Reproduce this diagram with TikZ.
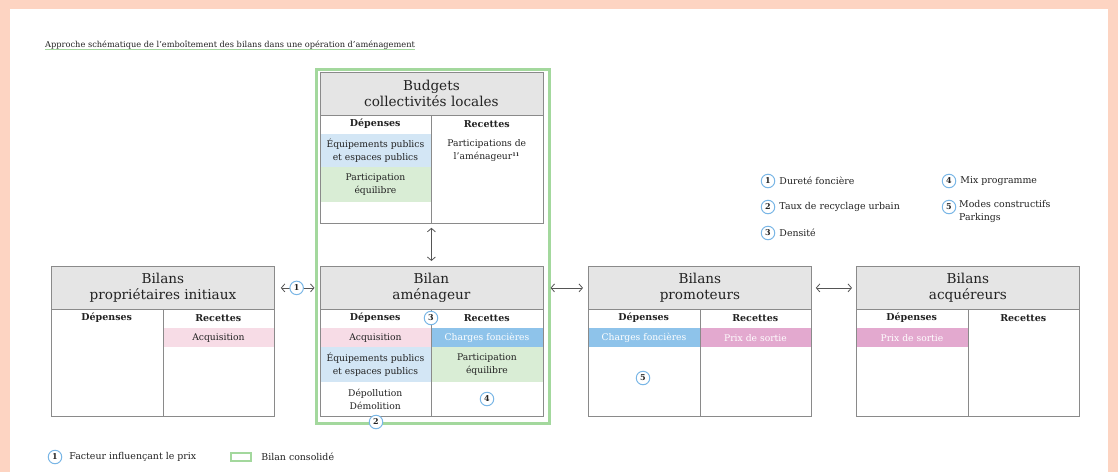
\documentclass[tikz,border=0pt]{standalone}
\usepackage{fontspec}
\setmainfont{DejaVu Serif}
\usetikzlibrary{positioning,arrows.meta}
\definecolor{peach}{HTML}{FDD4C2}
\definecolor{headgrey}{HTML}{E5E5E5}
\definecolor{linegrey}{HTML}{8A8A8A}
\definecolor{textdark}{HTML}{222222}
\definecolor{paleblue}{HTML}{D3E6F5}
\definecolor{deepblue}{HTML}{8EC3EA}
\definecolor{palepink}{HTML}{F7DCE6}
\definecolor{mauve}{HTML}{E3A9CF}
\definecolor{palegreen}{HTML}{D9EDD5}
\definecolor{greenframe}{HTML}{A3D89D}
\definecolor{numblue}{HTML}{79B6E6}
\definecolor{arrowgrey}{HTML}{555555}
\tikzset{
  bilanbox/.style={draw=linegrey, line width=0.8pt, minimum width=223, minimum height=150, anchor=north west, inner sep=0},
  bilanhead/.style={draw=linegrey, fill=headgrey, line width=0.8pt, minimum width=223, minimum height=43, anchor=north west, align=center, inner sep=0, text=textdark, font=\fontsize{13.6}{16}\selectfont},
  colhead/.style={inner sep=0, text=textdark, font=\bfseries\fontsize{9.5}{11}\selectfont},
  cell/.style={minimum width=111.5, anchor=north west, align=center, inner sep=0, text=textdark, font=\fontsize{9.2}{13}\selectfont},
  num/.style={circle, draw=numblue, line width=1pt, fill=white, minimum size=13.5, inner sep=0, text=textdark, font=\bfseries\fontsize{8}{8}\selectfont},
  legende/.style={anchor=west, inner sep=0, align=left, text=textdark, font=\fontsize{9.4}{13}\selectfont},
  flux/.style={{Straight Barb[length=3.5pt,width=8pt]}-{Straight Barb[length=3.5pt,width=8pt]}, draw=arrowgrey, line width=0.8pt},
}
\begin{document}
\begin{tikzpicture}[x=1pt,y=-1pt]
\useasboundingbox (0,0) rectangle (1118,472);
\fill[peach] (0,0) rectangle (1118,472);
\fill[white] (10,9) rectangle (1108,472);
% titre
\node[anchor=base west, inner sep=0, text=textdark, font=\fontsize{8.25}{10}\selectfont] (titre) at (45,47) {Approche schématique de l’emboîtement des bilans dans une opération d’aménagement};
\draw[greenframe, line width=1.6pt] ([yshift=-2.3pt]titre.base west) -- ([yshift=-2.3pt]titre.base east);
% bilan consolide
\node[draw=greenframe, line width=3pt, minimum width=233, minimum height=354, anchor=north west, inner sep=0] (consol) at (314.5,67.5) {};
% budgets collectivites locales
\node[bilanhead] (budhd) at (319.5,72) {Budgets\\collectivités locales};
\node[cell, fill=paleblue, minimum height=33] (budequip) at (319.5,134) {Équipements publics\\et espaces publics};
\node[cell, fill=palegreen, minimum height=35] (budpart) at (319.5,167) {Participation\\équilibre};
\node[bilanbox, minimum height=151] (bud) at (319.5,72) {};
\draw[linegrey, line width=0.8pt] (budhd.south) -- (bud.south);
\node[colhead] (buddep) at (375.25,124) {Dépenses};
\node[colhead] (budrec) at (486.75,124) {Recettes};
\node[cell, anchor=center] (budamen) at (486.75,151) {Participations de\\l’aménageur\textsuperscript{\bfseries\tiny 11}};
% bilans proprietaires initiaux
\node[bilanhead] (prophd) at (51,266) {Bilans\\propriétaires initiaux};
\node[cell, fill=palepink, minimum height=19] (propacq) at (162.5,328) {Acquisition};
\node[bilanbox] (prop) at (51,266) {};
\draw[linegrey, line width=0.8pt] (prophd.south) -- (prop.south);
\node[colhead] (propdep) at (106.75,318) {Dépenses};
\node[colhead] (proprec) at (218.25,318) {Recettes};
% bilan amenageur
\node[bilanhead] (amenhd) at (319.5,266) {Bilan\\aménageur};
\node[cell, fill=palepink, minimum height=19] (amenacq) at (319.5,328) {Acquisition};
\node[cell, fill=deepblue, minimum height=19, text=white] (amenchg) at (431,328) {Charges foncières};
\node[cell, fill=paleblue, minimum height=35] (amenequip) at (319.5,347) {Équipements publics\\et espaces publics};
\node[cell, fill=palegreen, minimum height=35] (amenpart) at (431,347) {Participation\\équilibre};
\node[cell, anchor=center] (amendepol) at (375.25,399) {Dépollution\\Démolition};
\node[bilanbox] (amen) at (319.5,266) {};
\draw[linegrey, line width=0.8pt] (amenhd.south) -- (amen.south);
\node[colhead] (amendep) at (375.25,318) {Dépenses};
\node[colhead] (amenrec) at (486.75,318) {Recettes};
% bilans promoteurs
\node[bilanhead] (promohd) at (588,266) {Bilans\\promoteurs};
\node[cell, fill=deepblue, minimum height=19, text=white] (promochg) at (588,328) {Charges foncières};
\node[cell, fill=mauve, minimum height=19, text=white] (promoprix) at (699.5,328) {Prix de sortie};
\node[bilanbox] (promo) at (588,266) {};
\draw[linegrey, line width=0.8pt] (promohd.south) -- (promo.south);
\node[colhead] (promodep) at (643.75,318) {Dépenses};
\node[colhead] (promorec) at (755.25,318) {Recettes};
% bilans acquereurs
\node[bilanhead] (acqhd) at (856,266) {Bilans\\acquéreurs};
\node[cell, fill=mauve, minimum height=19, text=white] (acqprix) at (856,328) {Prix de sortie};
\node[bilanbox] (acq) at (856,266) {};
\draw[linegrey, line width=0.8pt] (acqhd.south) -- (acq.south);
\node[colhead] (acqdep) at (911.75,318) {Dépenses};
\node[colhead] (acqrec) at (1023.25,318) {Recettes};
% liens
\draw[flux, shorten <=6pt] (prophd.east) -- (consol.west |- prophd.east) node[num, pos=0.55] (f1) {1};
\draw[flux, shorten >=5pt] (consol.east |- promohd.west) -- (promohd.west);
\draw[flux, shorten <=4pt, shorten >=4pt] (promohd.east) -- (acqhd.west);
\draw[flux, shorten <=4pt, shorten >=5pt] (bud.south) -- (amenhd.north);
% facteurs
\node[num] (f2) at (376,422) {2};
\node[num] (f3) at (431,318) {3};
\node[num] (f4) at (487,399) {4};
\node[num] (f5) at (643,378) {5};
% legende facteurs
\node[num] (l1) at (768,181) {1};
\node[num] (l2) at (768,207) {2};
\node[num] (l3) at (768,233) {3};
\node[num] (l4) at (949,181) {4};
\node[num] (l5) at (949,207) {5};
\node[legende, right=4pt of l1] (t1) {Dureté foncière};
\node[legende, right=4pt of l2] (t2) {Taux de recyclage urbain};
\node[legende, right=4pt of l3] (t3) {Densité};
\node[legende, right=4pt of l4] (t4) {Mix programme};
\node[legende, anchor=north west] (t5) at (959,200.5) {Modes constructifs\\Parkings};
% legende bas
\node[num] (lp) at (55,457) {1};
\node[legende, right=7pt of lp] (tp) {Facteur influençant le prix};
\node[draw=greenframe, fill=white, line width=2.5pt, minimum width=20, minimum height=8, inner sep=0] (lc) at (241,457) {};
\node[legende, right=9pt of lc] (tc) {Bilan consolidé};
\end{tikzpicture}
\end{document}
